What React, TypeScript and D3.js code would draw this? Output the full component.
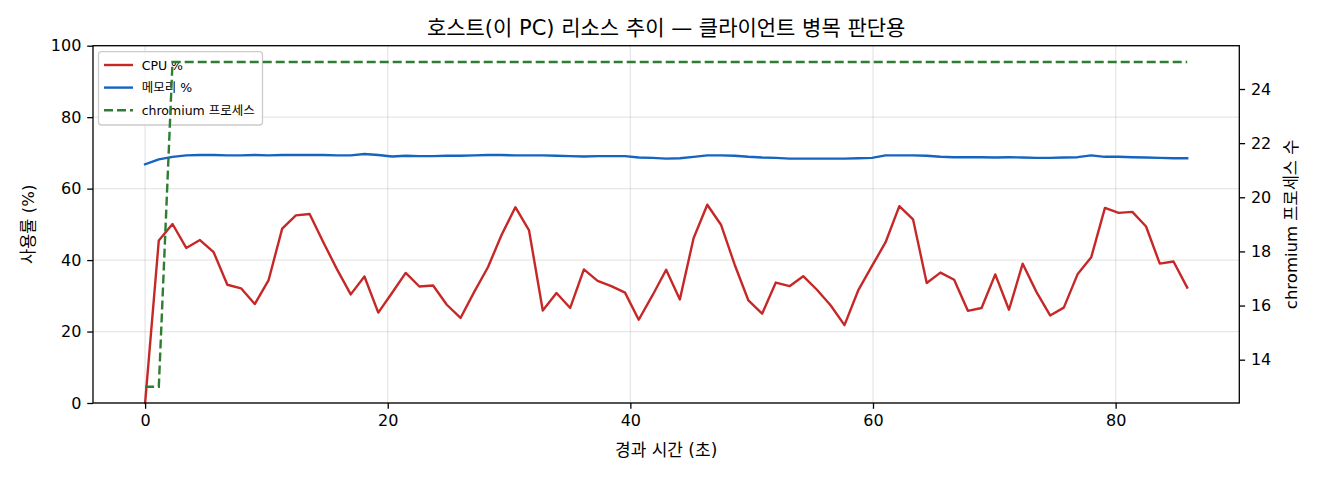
import { useEffect, useRef } from 'react';
import * as d3 from 'd3';

// elapsed seconds
const times = [
  0.0, 1.13, 2.26, 3.39, 4.52, 5.65, 6.78, 7.91, 9.04, 10.17,
  11.3, 12.43, 13.56, 14.69, 15.82, 16.95, 18.08, 19.22, 20.35, 21.48,
  22.61, 23.74, 24.87, 26.0, 27.13, 28.26, 29.39, 30.52, 31.65, 32.78,
  33.91, 35.04, 36.17, 37.3, 38.43, 39.56, 40.69, 41.82, 42.95, 44.08,
  45.21, 46.34, 47.47, 48.6, 49.73, 50.86, 51.99, 53.12, 54.25, 55.38,
  56.52, 57.65, 58.78, 59.91, 61.04, 62.17, 63.3, 64.43, 65.56, 66.69,
  67.82, 68.95, 70.08, 71.21, 72.34, 73.47, 74.6, 75.73, 76.86, 77.99,
  79.12, 80.25, 81.38, 82.51, 83.64, 84.77, 85.9,
];

const cpuPct = [
  0, 45.5, 50.1, 43.4, 45.6, 42.2, 33.1, 32.1, 27.7, 34.3,
  48.8, 52.5, 52.9, 45.0, 37.4, 30.4, 35.4, 25.3, 30.8, 36.4,
  32.6, 32.9, 27.5, 23.8, 31.1, 38.0, 47.1, 54.8, 48.3, 25.9,
  30.8, 26.6, 37.4, 34.2, 32.7, 30.9, 23.3, 30.1, 37.3, 29.0,
  46.1, 55.5, 49.9, 38.7, 28.7, 25.0, 33.7, 32.7, 35.5, 31.7,
  27.3, 21.8, 31.5, 38.3, 45.0, 55.1, 51.4, 33.6, 36.5, 34.5,
  25.8, 26.6, 36.0, 26.1, 39.0, 31.1, 24.5, 26.7, 36.0, 40.8,
  54.6, 53.2, 53.5, 49.4, 39.0, 39.6, 32.3,
];

const memPct = [
  66.8, 68.2, 68.9, 69.3, 69.4, 69.4, 69.3, 69.3, 69.4, 69.3,
  69.4, 69.4, 69.4, 69.4, 69.3, 69.3, 69.7, 69.4, 69.0, 69.2,
  69.1, 69.1, 69.2, 69.2, 69.3, 69.4, 69.4, 69.3, 69.3, 69.3,
  69.2, 69.1, 69.0, 69.1, 69.1, 69.1, 68.7, 68.6, 68.4, 68.5,
  68.9, 69.3, 69.3, 69.2, 68.9, 68.7, 68.6, 68.4, 68.4, 68.4,
  68.4, 68.4, 68.5, 68.6, 69.3, 69.3, 69.3, 69.2, 68.9, 68.8,
  68.8, 68.8, 68.7, 68.8, 68.7, 68.6, 68.6, 68.7, 68.8, 69.3,
  68.9, 68.9, 68.8, 68.7, 68.6, 68.5, 68.5,
];

const chromiumCount = [
  13, 13, 25, 25, 25, 25, 25, 25, 25, 25,
  25, 25, 25, 25, 25, 25, 25, 25, 25, 25,
  25, 25, 25, 25, 25, 25, 25, 25, 25, 25,
  25, 25, 25, 25, 25, 25, 25, 25, 25, 25,
  25, 25, 25, 25, 25, 25, 25, 25, 25, 25,
  25, 25, 25, 25, 25, 25, 25, 25, 25, 25,
  25, 25, 25, 25, 25, 25, 25, 25, 25, 25,
  25, 25, 25, 25, 25, 25, 25,
];

const xTicks = [0, 20, 40, 60, 80];
const leftTicks = [0, 20, 40, 60, 80, 100];
const rightTicks = [14, 16, 18, 20, 22, 24];

const TITLE = '호스트(이 PC) 리소스 추이 — 클라이언트 병목 판단용';
const X_LABEL = '경과 시간 (초)';
const Y_LABEL = '사용률 (%)';
const Y2_LABEL = 'chromium 프로세스 수';
const SERIES = [
  { name: 'CPU %', color: '#c62828', dash: null },
  { name: '메모리 %', color: '#1565c0', dash: null },
  { name: 'chromium 프로세스', color: '#2e7d32', dash: '9,4' },
];

const WIDTH = 1320;
const HEIGHT = 480;
const FONT = '"DejaVu Sans", "Noto Sans CJK KR", sans-serif';

export default function App() {
  const svgRef = useRef<SVGSVGElement>(null);

  useEffect(() => {
    if (!svgRef.current) return;
    const svg = d3.select(svgRef.current);
    svg.selectAll('*').remove();

    const left = 93;
    const right = 1239.3;
    const top = 45.7;
    const bottom = 403;

    const tMax = d3.max(times) ?? 1;
    const tPad = tMax * 0.05;
    const x = d3.scaleLinear().domain([-tPad, tMax + tPad]).range([left, right]);
    const yL = d3.scaleLinear().domain([0, 100]).range([bottom, top]);
    const [cMin, cMax] = d3.extent(chromiumCount) as [number, number];
    const cPad = (cMax - cMin) * 0.05;
    const yR = d3.scaleLinear().domain([cMin - cPad, cMax + cPad]).range([bottom, top]);

    const root = svg.append('g').attr('font-family', FONT).attr('fill', '#000');

    // grid (left axis)
    const grid = root.append('g').attr('stroke', '#b0b0b0').attr('stroke-opacity', 0.3).attr('stroke-width', 1.3);
    grid.selectAll('line.v').data(xTicks).join('line')
      .attr('x1', (d) => x(d)).attr('x2', (d) => x(d))
      .attr('y1', top).attr('y2', bottom);
    grid.selectAll('line.h').data(leftTicks).join('line')
      .attr('x1', left).attr('x2', right)
      .attr('y1', (d) => yL(d)).attr('y2', (d) => yL(d));

    const lineOf = (ys: number[], scale: d3.ScaleLinear<number, number>) =>
      d3.line<number>().x((_, i) => x(times[i])).y((d) => scale(d))(ys) ?? '';

    root.append('path').attr('d', lineOf(cpuPct, yL))
      .attr('fill', 'none').attr('stroke', SERIES[0].color).attr('stroke-width', 2.4)
      .attr('stroke-linejoin', 'round').attr('stroke-linecap', 'square');
    root.append('path').attr('d', lineOf(memPct, yL))
      .attr('fill', 'none').attr('stroke', SERIES[1].color).attr('stroke-width', 2.4)
      .attr('stroke-linejoin', 'round').attr('stroke-linecap', 'square');

    // axes
    const styleAxis = (g: d3.Selection<SVGGElement, unknown, null, undefined>) => {
      g.select('.domain').remove();
      g.selectAll('.tick line').attr('stroke', '#000').attr('stroke-width', 1.3);
      g.selectAll('.tick text').attr('fill', '#000');
      g.attr('font-family', FONT).attr('font-size', 16);
    };

    root.append('g').attr('transform', `translate(0,${bottom})`)
      .call(d3.axisBottom(x).tickValues(xTicks).tickSize(5.8).tickPadding(5.5).tickFormat(d3.format('d')) as never)
      .call(styleAxis as never);
    root.append('g').attr('transform', `translate(${left},0)`)
      .call(d3.axisLeft(yL).tickValues(leftTicks).tickSize(5.8).tickPadding(5.8).tickFormat(d3.format('d')) as never)
      .call(styleAxis as never);

    // legend (ax1)
    const lg = root.append('g');
    lg.append('rect')
      .attr('x', 98.5).attr('y', 51.7).attr('width', 164).attr('height', 73.3)
      .attr('rx', 3).attr('fill', '#fff').attr('fill-opacity', 0.8)
      .attr('stroke', '#cccccc').attr('stroke-width', 1.3);
    SERIES.forEach((s, i) => {
      const cy = 65 + i * 22.6;
      lg.append('line').attr('x1', 104).attr('x2', 133).attr('y1', cy).attr('y2', cy)
        .attr('stroke', s.color).attr('stroke-width', 2.4)
        .attr('stroke-dasharray', s.dash ?? null);
      lg.append('text').attr('x', 141.7).attr('y', cy + 4.5)
        .attr('font-size', 12.5).text(s.name);
    });

    // ax2: chromium process count, drawn on top
    root.append('path').attr('d', lineOf(chromiumCount, yR))
      .attr('fill', 'none').attr('stroke', SERIES[2].color).attr('stroke-width', 2.4)
      .attr('stroke-dasharray', SERIES[2].dash);

    root.append('g').attr('transform', `translate(${right},0)`)
      .call(d3.axisRight(yR).tickValues(rightTicks).tickSize(5.8).tickPadding(5.8).tickFormat(d3.format('d')) as never)
      .call(styleAxis as never);

    // spines
    root.append('rect')
      .attr('x', left).attr('y', top).attr('width', right - left).attr('height', bottom - top)
      .attr('fill', 'none').attr('stroke', '#000').attr('stroke-width', 1.3);

    // texts
    root.append('text').attr('x', (left + right) / 2).attr('y', 35)
      .attr('text-anchor', 'middle').attr('font-size', 21).text(TITLE);
    root.append('text').attr('x', (left + right) / 2).attr('y', 456)
      .attr('text-anchor', 'middle').attr('font-size', 17).text(X_LABEL);
    root.append('text')
      .attr('transform', `translate(34,${(top + bottom) / 2}) rotate(-90)`)
      .attr('text-anchor', 'middle').attr('font-size', 16.5).text(Y_LABEL);
    root.append('text')
      .attr('transform', `translate(1297,${(top + bottom) / 2}) rotate(-90)`)
      .attr('text-anchor', 'middle').attr('font-size', 16.5).text(Y2_LABEL);
  }, []);

  return (
    <div style={{ position: 'absolute', left: 0, top: 0 }}>
      <svg ref={svgRef} width={WIDTH} height={HEIGHT} style={{ display: 'block', background: '#fff' }} />
    </div>
  );
}
